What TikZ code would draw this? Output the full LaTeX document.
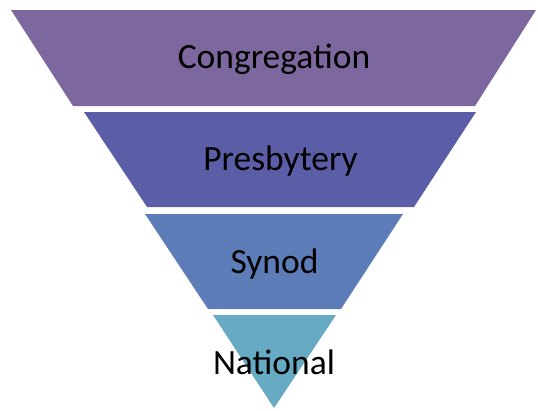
\documentclass[tikz,border=0pt]{standalone}
\usepackage{fontspec}
\setmainfont{Carlito}
\definecolor{congcol}{RGB}{124,104,158}
\definecolor{presbcol}{RGB}{92,93,167}
\definecolor{synodcol}{RGB}{93,125,184}
\definecolor{natcol}{RGB}{103,170,196}
\tikzset{
  level/.style={font=\fontsize{35.5}{40}\selectfont, anchor=base, inner sep=0pt}
}
\begin{document}
\begin{tikzpicture}[x=1pt, y=-1pt]
    \useasboundingbox (0,0) rectangle (538,410);
    % Congregation
    \fill[congcol] (11,10) -- (536,10) -- (475,106) -- (73,106) -- cycle;
    \node[level] (congregation) at (274,68.5) {Congregation};

    % Presbytery
    \fill[presbcol] (84,112) -- (476,112) -- (414,207) -- (147,207) -- cycle;
    \node[level] (presbytery) at (280.5,170) {Presbytery};

    % Synod
    \fill[synodcol] (145,214) -- (403,214) -- (341,309) -- (208,309) -- cycle;
    \node[level] (synod) at (274.5,273) {Synod};

    % National
    \fill[natcol] (213,315) -- (336,315) -- (274,408) -- cycle;
    \node[level] (national) at (274,374.5) {National};
\end{tikzpicture}
\end{document}
